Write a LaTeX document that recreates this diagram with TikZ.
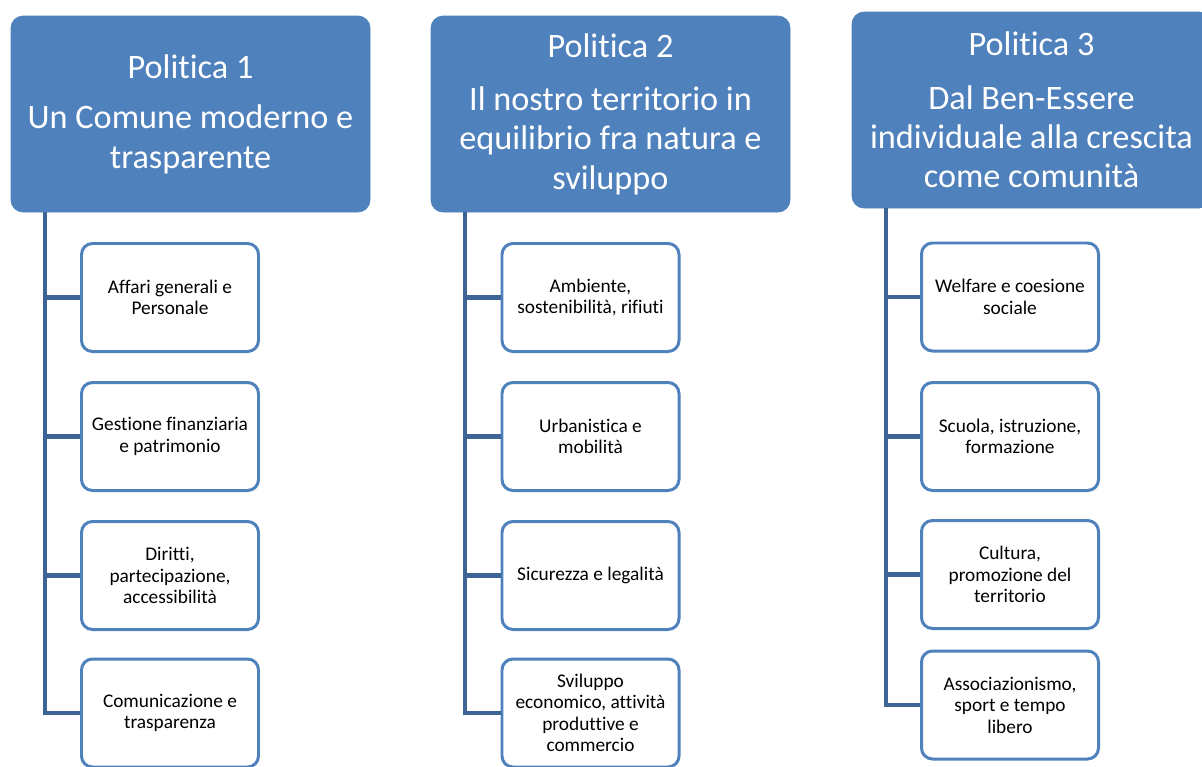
\documentclass[tikz,border=0pt]{standalone}
\usepackage{fontspec}
\setmainfont{Carlito}[Ligatures=NoCommon]
\usetikzlibrary{positioning}
\definecolor{polblue}{HTML}{4F81BD}
\definecolor{linkblue}{HTML}{3D6495}
\tikzset{
  politica/.style={rectangle, rounded corners=0.24cm, fill=polblue, draw=polblue,
    text=white, minimum width=7.18cm, minimum height=3.92cm, align=center,
    font=\fontsize{19.5}{22.4}\selectfont},
  settore/.style={rectangle, rounded corners=0.22cm, draw=polblue, line width=1.7pt,
    fill=white, minimum width=3.54cm, minimum height=2.16cm, align=center,
    font=\fontsize{11}{12.2}\selectfont},
  ramo/.style={draw=linkblue, line width=2.4pt}
}
\begin{document}
\begin{tikzpicture}
\clip (0,0) rectangle (24.04,-15.32);
\fill[white] (0,0) rectangle (24.04,-15.32);
% intestazioni
\node[politica] (pol1) at (3.81,-2.28) {Politica 1\\[6.5pt]Un Comune moderno e\\trasparente};
\node[politica] (pol2) at (12.21,-2.28) {Politica 2\\[8pt]Il nostro territorio in\\equilibrio fra natura e\\sviluppo};
\node[politica] (pol3) at (20.63,-2.20) {Politica 3\\[8pt]Dal Ben-Essere\\individuale alla crescita\\come comunit\`a};
% settori, politica 1
\node[settore] (set11) at (3.40,-5.95) {Affari generali e\\Personale};
\node[settore] (set12) at (3.40,-8.73) {Gestione finanziaria\\e patrimonio};
\node[settore] (set13) at (3.40,-11.51) {Diritti,\\partecipazione,\\accessibilit\`a};
\node[settore] (set14) at (3.40,-14.26) {Comunicazione e\\trasparenza};
% settori, politica 2
\node[settore] (set21) at (11.81,-5.95) {Ambiente,\\sostenibilit\`a, rifiuti};
\node[settore] (set22) at (11.81,-8.73) {Urbanistica e\\mobilit\`a};
\node[settore] (set23) at (11.81,-11.51) {Sicurezza e legalit\`a};
\node[settore] (set24) at (11.81,-14.26) {Sviluppo\\economico, attivit\`a\\produttive e\\commercio};
% settori, politica 3
\node[settore] (set31) at (20.20,-5.94) {Welfare e coesione\\sociale};
\node[settore] (set32) at (20.20,-8.73) {Scuola, istruzione,\\formazione};
\node[settore] (set33) at (20.20,-11.49) {Cultura,\\promozione del\\territorio};
\node[settore] (set34) at (20.20,-14.10) {Associazionismo,\\sport e tempo\\libero};
% rami
\coordinate (tr1) at (0.90,-4.24);
\coordinate (tr2) at (9.30,-4.24);
\coordinate (tr3) at (17.72,-4.16);
\draw[ramo] (tr1) |- (set14.west);
\draw[ramo] (tr1 |- set11.west) -- (set11.west);
\draw[ramo] (tr1 |- set12.west) -- (set12.west);
\draw[ramo] (tr1 |- set13.west) -- (set13.west);
\draw[ramo] (tr2) |- (set24.west);
\draw[ramo] (tr2 |- set21.west) -- (set21.west);
\draw[ramo] (tr2 |- set22.west) -- (set22.west);
\draw[ramo] (tr2 |- set23.west) -- (set23.west);
\draw[ramo] (tr3) |- (set34.west);
\draw[ramo] (tr3 |- set31.west) -- (set31.west);
\draw[ramo] (tr3 |- set32.west) -- (set32.west);
\draw[ramo] (tr3 |- set33.west) -- (set33.west);
\end{tikzpicture}
\end{document}
